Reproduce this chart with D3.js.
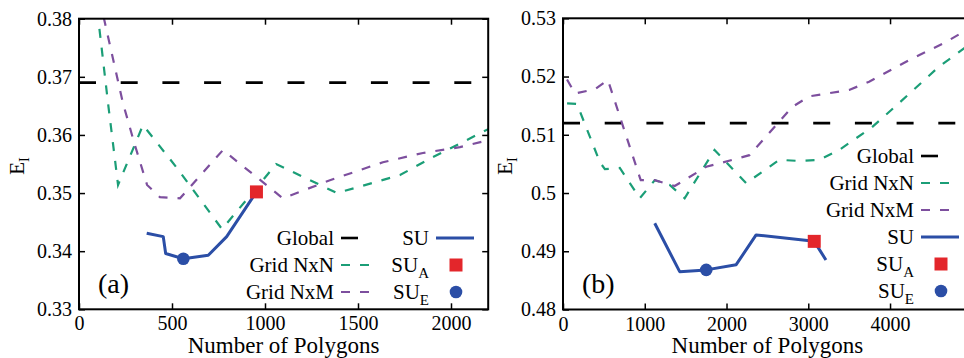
<!DOCTYPE html>
<html lang="en">
<head>
  <meta charset="UTF-8">
  <title>E_I vs number of polygons</title>
  <script src="https://d3js.org/d3.v7.min.js"></script>
  <style>
    body { margin: 0; background: #fff; }
    svg text { font-family: "Liberation Serif", "Times New Roman", serif; }
  </style>
</head>
<body>
  <svg id="chart"></svg>
  <script>
    // ---- data ----
    // panel (a)
    const globalA = 0.369;
    const nxnA = [[98, 0.3815], [156, 0.3655], [210, 0.3514], [344, 0.3617], [527, 0.3543],
      [769, 0.3438], [957, 0.3510], [1060, 0.3550], [1387, 0.3500], [1726, 0.3531],
      [1903, 0.3562], [2065, 0.3588], [2200, 0.3610]];
    const nxmA = [[110, 0.3835], [236, 0.3655], [300, 0.3583], [366, 0.3514], [435, 0.3493],
      [543, 0.3491], [774, 0.3574], [1096, 0.3491], [1349, 0.3522], [1634, 0.3553],
      [1849, 0.3569], [2048, 0.3579], [2200, 0.3591]];
    const suA = [[364, 0.3431], [453, 0.3425], [466, 0.3396], [561, 0.3387], [695, 0.3393],
      [794, 0.3425], [954, 0.3502]];
    const suAPointA = [954, 0.3502];
    const suEPointA = [561, 0.3387];

    // panel (b)
    const globalB = 0.512;
    const nxnB = [[50, 0.5154], [171, 0.5153], [451, 0.5053], [512, 0.5041], [695, 0.5043],
      [939, 0.4991], [1122, 0.5022], [1305, 0.5014], [1488, 0.4991], [1854, 0.5074],
      [2240, 0.5017], [2646, 0.5057], [2890, 0.5055], [3134, 0.5057], [3378, 0.5074],
      [3780, 0.5113], [4146, 0.5159], [4598, 0.5217], [5000, 0.5258]];
    const nxmB = [[49, 0.5195], [146, 0.5171], [390, 0.5178], [549, 0.5194], [939, 0.5027],
      [951, 0.5022], [1122, 0.5022], [1366, 0.5012], [1752, 0.5045], [2073, 0.5057],
      [2280, 0.5065], [2805, 0.5148], [3012, 0.5166], [3500, 0.5177], [3744, 0.5191],
      [4232, 0.5228], [4679, 0.5259], [5000, 0.5285]];
    const suB = [[1122, 0.4948], [1427, 0.4865], [1752, 0.4868], [2118, 0.4877],
      [2362, 0.4928], [3073, 0.4917], [3216, 0.4885]];
    const suAPointB = [3073, 0.4917];
    const suEPointB = [1752, 0.4868];

    const xTicksA = [0, 500, 1000, 1500, 2000];
    const yTicksA = [0.33, 0.34, 0.35, 0.36, 0.37, 0.38];
    const xTicksB = [0, 1000, 2000, 3000, 4000];
    const yTicksB = [0.48, 0.49, 0.5, 0.51, 0.52, 0.53];

    const FONT = '"Liberation Serif", "Times New Roman", serif';
    const colors = { global: "#000", nxn: "#1b9e77", nxm: "#7d4f9e", su: "#2b4ea6", sua: "#e3262b" };
    const dashGlobal = "17,24.7";
    const dashGrid = "9,10";

    const svg = d3.select("#chart")
      .attr("width", 964)
      .attr("height", 358)
      .style("font-family", FONT);

    function drawPanel(p) {
      const x = d3.scaleLinear().domain(p.xDomain).range(p.xRange);
      const y = d3.scaleLinear().domain(p.yDomain).range(p.yRange);
      const g = svg.append("g");
      const [x0, x1] = p.xRange;
      const [yb, yt] = p.yRange;
      const fmt = d => String(+d.toFixed(2));

      g.append("clipPath").attr("id", p.id + "clip")
        .append("rect").attr("x", x0).attr("y", yt).attr("width", x1 - x0).attr("height", yb - yt);

      // axes with inward ticks, mirrored on top/right
      const ax = [
        [d3.axisBottom(x).tickValues(p.xTicks).tickFormat(fmt), `translate(0,${yb})`],
        [d3.axisTop(x).tickValues(p.xTicks).tickFormat(""), `translate(0,${yt})`],
        [d3.axisLeft(y).tickValues(p.yTicks).tickFormat(fmt), `translate(${x0},0)`],
        [d3.axisRight(y).tickValues(p.yTicks).tickFormat(""), `translate(${x1},0)`]
      ];
      ax.forEach(([a, t]) => {
        const ga = g.append("g").attr("transform", t)
          .call(a.tickSize(-6).tickPadding(7))
          .attr("font-family", null);
        ga.select(".domain").remove();
        ga.selectAll("line").attr("stroke", "#000").attr("stroke-width", 1.5);
        ga.selectAll("text").attr("font-size", 20).style("font-family", FONT).attr("fill", "#000");
      });

      const line = d3.line().x(d => x(d[0])).y(d => y(d[1]));
      const plot = g.append("g").attr("clip-path", `url(#${p.id}clip)`);

      plot.append("line")
        .attr("x1", x0).attr("x2", x1)
        .attr("y1", y(p.global)).attr("y2", y(p.global))
        .attr("stroke", colors.global).attr("stroke-width", 2.6)
        .attr("stroke-dasharray", dashGlobal);

      plot.append("path").datum(p.nxn).attr("d", line)
        .attr("fill", "none").attr("stroke", colors.nxn).attr("stroke-width", 2.2)
        .attr("stroke-dasharray", dashGrid);
      plot.append("path").datum(p.nxm).attr("d", line)
        .attr("fill", "none").attr("stroke", colors.nxm).attr("stroke-width", 2.2)
        .attr("stroke-dasharray", dashGrid);
      plot.append("path").datum(p.su).attr("d", line)
        .attr("fill", "none").attr("stroke", colors.su).attr("stroke-width", 3)
        .attr("stroke-linejoin", "round");

      plot.append("rect")
        .attr("x", x(p.suAPt[0]) - 6.5).attr("y", y(p.suAPt[1]) - 6.5)
        .attr("width", 13).attr("height", 13).attr("fill", colors.sua);
      plot.append("circle")
        .attr("cx", x(p.suEPt[0])).attr("cy", y(p.suEPt[1])).attr("r", 6.3)
        .attr("fill", colors.su);

      // frame
      g.append("rect").attr("x", x0).attr("y", yt)
        .attr("width", x1 - x0).attr("height", yb - yt)
        .attr("fill", "none").attr("stroke", "#000").attr("stroke-width", 2);

      // axis titles
      g.append("text")
        .attr("x", (x0 + x1) / 2).attr("y", 353)
        .attr("text-anchor", "middle").attr("font-size", 23)
        .style("font-family", FONT)
        .text("Number of Polygons");

      const yl = g.append("text")
        .attr("transform", `translate(${p.yLabelX},166) rotate(-90)`)
        .attr("text-anchor", "middle").attr("font-size", 21)
        .style("font-family", FONT);
      yl.append("tspan").text("E");
      yl.append("tspan").attr("font-size", 14).attr("dy", 5).text("I");

      g.append("text")
        .attr("x", p.tagX).attr("y", 293)
        .attr("font-size", 28)
        .style("font-family", FONT)
        .text(p.tag);

      // legend
      p.legend.forEach(item => {
        const t = g.append("text")
          .attr("x", item.tx).attr("y", item.by)
          .attr("text-anchor", "end").attr("font-size", 21)
          .style("font-family", FONT);
        t.append("tspan").text(item.label);
        if (item.sub) t.append("tspan").attr("font-size", 15).attr("dy", 6).text(item.sub);

        const ly = item.by - 7;
        const sx = item.tx + 7;
        if (item.kind === "line") {
          g.append("line")
            .attr("x1", sx).attr("x2", sx + 38).attr("y1", ly).attr("y2", ly)
            .attr("stroke", item.color).attr("stroke-width", item.width)
            .attr("stroke-dasharray", item.dash || null);
        } else if (item.kind === "square") {
          g.append("rect").attr("x", sx + 20 - 6.5).attr("y", ly - 6.5)
            .attr("width", 13).attr("height", 13).attr("fill", item.color);
        } else {
          g.append("circle").attr("cx", sx + 20).attr("cy", ly).attr("r", 6.3)
            .attr("fill", item.color);
        }
      });
    }

    const legendItems = [
      { label: "Global", kind: "line", color: colors.global, width: 2.6, dash: dashGlobal },
      { label: "Grid NxN", kind: "line", color: colors.nxn, width: 2.2, dash: dashGrid },
      { label: "Grid NxM", kind: "line", color: colors.nxm, width: 2.2, dash: dashGrid },
      { label: "SU", kind: "line", color: colors.su, width: 3 },
      { label: "SU", sub: "A", kind: "square", color: colors.sua },
      { label: "SU", sub: "E", kind: "circle", color: colors.su }
    ];

    drawPanel({
      id: "a", tag: "(a)", tagX: 98, yLabelX: 24,
      xDomain: [0, 2200], xRange: [79, 488.2],
      yDomain: [0.33, 0.38], yRange: [309.3, 18.7],
      xTicks: xTicksA, yTicks: yTicksA,
      global: globalA, nxn: nxnA, nxm: nxmA, su: suA,
      suAPt: suAPointA, suEPt: suEPointA,
      legend: legendItems.map((d, i) => Object.assign({}, d, {
        tx: i < 3 ? 334 : 429,
        by: 245 + 27 * (i % 3)
      }))
    });

    drawPanel({
      id: "b", tag: "(b)", tagX: 582, yLabelX: 512,
      xDomain: [0, 5000], xRange: [563, 971.8],
      yDomain: [0.48, 0.53], yRange: [309.5, 18.3],
      xTicks: xTicksB, yTicks: yTicksB,
      global: globalB, nxn: nxnB, nxm: nxmB, su: suB,
      suAPt: suAPointB, suEPt: suEPointB,
      legend: legendItems.map((d, i) => Object.assign({}, d, {
        tx: 914,
        by: 163 + 27 * i
      }))
    });
  </script>
</body>
</html>
